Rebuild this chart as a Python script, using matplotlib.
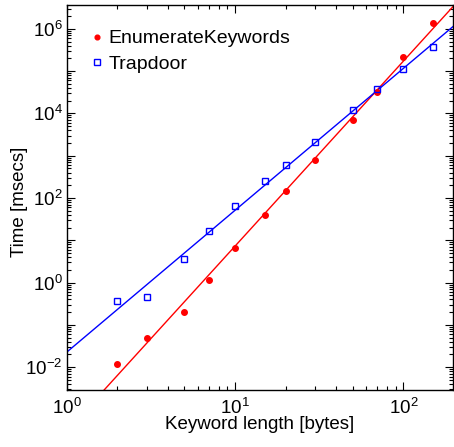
import numpy as np
import matplotlib
matplotlib.use("Agg")
import matplotlib.pyplot as plt
from matplotlib.ticker import LogLocator, FuncFormatter, NullFormatter

plt.rcParams['font.family'] = ['Liberation Sans', 'DejaVu Sans']
plt.rcParams['mathtext.fontset'] = 'custom'
plt.rcParams['mathtext.rm'] = 'Liberation Sans'
plt.rcParams['mathtext.it'] = 'Liberation Sans:italic'

# Data
keyword_len = [2, 3, 5, 7, 10, 15, 20, 30, 50, 70, 100, 150]
enum_time = [0.012, 0.050, 0.20, 1.14, 6.5, 40, 147, 810, 7100, 31500, 218000, 1.35e6]
trap_time = [0.37, 0.46, 3.7, 16.5, 64, 254, 615, 2080, 12100, 37500, 110000, 372000]

# power-law fit lines: log10(y) = slope*log10(x) + intercept
enum_fit = (4.374, -3.511)
trap_fit = (3.355, -1.645)

series_labels = ["EnumerateKeywords", "Trapdoor"]
x_label = "Keyword length [bytes]"
y_label = "Time [msecs]"

xlim = (1, 10 ** 2.295)
ylim = (10 ** -2.54, 10 ** 6.57)

fig = plt.figure(figsize=(4.54, 4.47), dpi=100)
ax = fig.add_axes([0.147, 0.1275, 0.851, 0.862])

xf = np.logspace(np.log10(xlim[0]), np.log10(xlim[1]), 200)
ax.plot(xf, 10 ** (enum_fit[0] * np.log10(xf) + enum_fit[1]), color='#ff0000', lw=1.0)
ax.plot(xf, 10 ** (trap_fit[0] * np.log10(xf) + trap_fit[1]), color='#0000ff', lw=1.0)

ax.plot(keyword_len, enum_time, 'o', color='#ff0000', ms=4.0, mec='#ff0000',
        label=series_labels[0], ls='none')
ax.plot(keyword_len, trap_time, 's', color='#0000ff', mfc='none', ms=4.6, mew=1.0,
        label=series_labels[1], ls='none')

ax.set_xscale('log')
ax.set_yscale('log')
ax.set_xlim(*xlim)
ax.set_ylim(*ylim)

ax.xaxis.set_major_locator(LogLocator(base=10, numticks=20))
ax.xaxis.set_minor_locator(LogLocator(base=10, subs=np.arange(2, 10), numticks=20))
ax.yaxis.set_major_locator(LogLocator(base=10, numticks=30))
ax.yaxis.set_minor_locator(LogLocator(base=10, subs=np.arange(2, 10), numticks=30))


def xfmt(v, pos):
    e = int(round(np.log10(v)))
    return r'$\mathregular{10^{%d}}$' % e


def yfmt(v, pos):
    e = int(round(np.log10(v)))
    if e % 2 != 0:
        return ''
    return r'$\mathregular{10^{%d}}$' % e


ax.xaxis.set_major_formatter(FuncFormatter(xfmt))
ax.yaxis.set_major_formatter(FuncFormatter(yfmt))
ax.xaxis.set_minor_formatter(NullFormatter())
ax.yaxis.set_minor_formatter(NullFormatter())

ax.tick_params(which='both', direction='in', top=True, right=True, labelsize=13.5, width=0.8)
ax.tick_params(which='major', length=6)
ax.tick_params(axis='x', which='major', pad=5.5)
ax.tick_params(axis='y', which='major', pad=3)
ax.tick_params(which='minor', length=3)
for s in ax.spines.values():
    s.set_linewidth(1.0)

ax.set_xlabel(x_label, fontsize=13.5, labelpad=-1)
ax.set_ylabel(y_label, fontsize=13.5)
ax.yaxis.set_label_coords(-0.10, 0.488)

ax.legend(loc='upper left', bbox_to_anchor=(0.063, 0.935), frameon=False, fontsize=14,
          handlelength=0.6, handletextpad=0.31, borderaxespad=0, borderpad=0,
          labelspacing=0.4, numpoints=1, markerscale=0.85)

fig.savefig('out.png', dpi=100)
